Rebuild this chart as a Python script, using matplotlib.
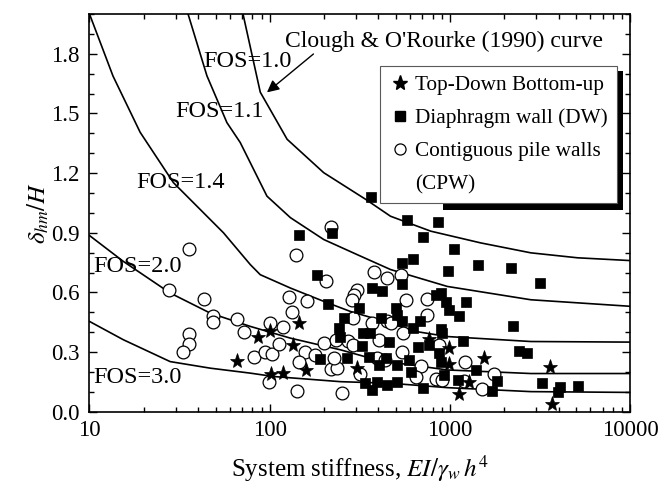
import matplotlib
matplotlib.use("Agg")
import matplotlib.pyplot as plt
from matplotlib.lines import Line2D
from matplotlib.patches import Rectangle
from matplotlib.transforms import IdentityTransform
from matplotlib.ticker import MultipleLocator, FixedLocator, FixedFormatter, LogLocator, NullFormatter

plt.rcParams['font.family'] = ['Liberation Serif', 'DejaVu Serif']
plt.rcParams['mathtext.fontset'] = 'stix'

# ---------------- data ----------------
fos10_x = [71, 88.5, 124.7, 199, 340, 467, 780, 1476, 2800, 5090, 10000]
fos10_y = [2.0, 1.607, 1.370, 1.202, 1.068, 0.983, 0.908, 0.849, 0.799, 0.774, 0.760]

fos11_x = [35.2, 44.8, 57.8, 68.5, 96.4, 130, 199, 305, 467, 964, 2800, 10000]
fos11_y = [2.0, 1.689, 1.454, 1.354, 1.084, 0.976, 0.866, 0.790, 0.715, 0.630, 0.563, 0.530]

fos14_x = [10, 13.5, 19.1, 29.2, 55.3, 77.9, 88.5, 130, 199, 280, 467, 660, 964, 2800, 10000]
fos14_y = [2.0, 1.688, 1.405, 1.152, 0.900, 0.740, 0.689, 0.622, 0.555, 0.504, 0.445, 0.402, 0.378, 0.353, 0.350]

fos20_x = [10, 15.4, 28.0, 46.7, 77.9, 130, 247, 400, 964, 2800, 10000]
fos20_y = [0.886, 0.756, 0.597, 0.496, 0.429, 0.370, 0.311, 0.258, 0.210, 0.192, 0.192]

fos30_x = [10, 15.4, 28.0, 46.7, 77.9, 105, 247, 467, 964, 2800, 10000]
fos30_y = [0.454, 0.362, 0.252, 0.219, 0.194, 0.177, 0.151, 0.143, 0.121, 0.101, 0.097]

cpw_x = [27.7, 35.8, 43.4, 48.1, 48.1, 65.8, 71.5, 35.8, 35.8, 32.8, 81.3, 93.5, 99.8,
         119, 98.5, 102.8, 113, 127, 161, 133, 142, 140, 157, 179, 146, 199, 206, 217,
         217, 236, 226, 234, 270, 290, 290, 252, 305, 292, 286, 378, 448, 531, 370, 448,
         402, 394, 433, 318, 467, 566, 740, 747, 550, 867, 542, 686, 1205, 643, 830, 905,
         1194, 1750, 1510]
cpw_y = [0.614, 0.820, 0.567, 0.483, 0.451, 0.466, 0.403, 0.392, 0.340, 0.298, 0.273, 0.299, 0.446,
         0.426, 0.151, 0.289, 0.340, 0.575, 0.555, 0.499, 0.104, 0.790, 0.300, 0.286, 0.249, 0.345, 0.659, 0.930,
         0.215, 0.219, 0.272, 0.362, 0.357, 0.336, 0.471, 0.093, 0.614, 0.589, 0.563, 0.705, 0.674, 0.689, 0.446, 0.454,
         0.362, 0.269, 0.261, 0.189, 0.448, 0.563, 0.568, 0.484, 0.395, 0.336, 0.300, 0.232, 0.252, 0.176, 0.163, 0.160,
         0.155, 0.189, 0.114]

dw_x = [365, 145, 222, 578, 855, 710, 1050, 1427, 2182, 625, 542, 973, 3141, 182, 209, 370, 420,
        542, 311, 259, 411, 241, 244, 328, 361, 457, 325, 189, 268, 354, 402, 339, 391, 448, 370,
        830, 885, 944, 1219, 985, 498, 509, 1114, 542, 679, 625, 885, 897, 2218, 1183, 662, 762,
        867, 438, 590, 509, 885, 1387, 604, 924, 1104, 1829, 2410, 2661, 504, 710, 1715, 3251,
        4074, 3945, 5093]
dw_y = [1.079, 0.888, 0.900, 0.963, 0.952, 0.879, 0.818, 0.740, 0.725, 0.769, 0.748, 0.706, 0.646, 0.687, 0.542, 0.622, 0.609,
        0.642, 0.524, 0.471, 0.471, 0.421, 0.378, 0.395, 0.395, 0.353, 0.328, 0.266, 0.269, 0.277, 0.236, 0.143, 0.148, 0.135, 0.109,
        0.585, 0.597, 0.552, 0.552, 0.513, 0.521, 0.488, 0.482, 0.454, 0.454, 0.421, 0.417, 0.395, 0.429, 0.357, 0.323, 0.333,
        0.295, 0.269, 0.261, 0.236, 0.249, 0.210, 0.202, 0.185, 0.160, 0.155, 0.303, 0.295, 0.148, 0.118, 0.104, 0.143,
        0.123, 0.101, 0.131]

td_x = [65.8, 85.5, 100.7, 146, 134.6, 101.6, 119, 159, 305, 762, 985, 985, 1541, 1271, 1119, 3581, 3648]
td_y = [0.257, 0.375, 0.408, 0.446, 0.336, 0.189, 0.194, 0.210, 0.219, 0.367, 0.320, 0.239, 0.269, 0.151, 0.088, 0.227, 0.039]

fos_labels = ["FOS=1.0", "FOS=1.1", "FOS=1.4", "FOS=2.0", "FOS=3.0"]
fos_label_x = [42.7, 29.9, 18.1, 10.45, 10.45]
fos_label_y = [1.763, 1.511, 1.153, 0.730, 0.170]

x_ticks = [10, 100, 1000, 10000]
x_tick_labels = ["10", "100", "1000", "10000"]
y_ticks = [0.0, 0.3, 0.6, 0.9, 1.2, 1.5, 1.8]
y_tick_labels = ["0.0", "0.3", "0.6", "0.9", "1.2", "1.5", "1.8"]

legend_labels = ["Top-Down Bottom-up", "Diaphragm wall (DW)", "Contiguous pile walls", "(CPW)"]
annot_text = "Clough & O'Rourke (1990) curve"

# ---------------- figure ----------------
fig = plt.figure(figsize=(6.6, 4.92), dpi=100)
ax = fig.add_axes([0.1356, 0.1632, 0.8197, 0.8083])

for cx, cy in [(fos10_x, fos10_y), (fos11_x, fos11_y), (fos14_x, fos14_y),
               (fos20_x, fos20_y), (fos30_x, fos30_y)]:
    ax.plot(cx, cy, color='black', lw=1.2, zorder=2)

ax.plot(cpw_x, cpw_y, linestyle='none', marker='o', markersize=9.2,
        markerfacecolor='white', markeredgecolor='black', markeredgewidth=0.9, zorder=3)
ax.plot(dw_x, dw_y, linestyle='none', marker='s', markersize=7.8,
        markerfacecolor='black', markeredgecolor='black', markeredgewidth=0.5, zorder=3)
ax.plot(td_x, td_y, linestyle='none', marker='*', markersize=11,
        markerfacecolor='black', markeredgecolor='black', markeredgewidth=0.5, zorder=4)

for t, tx, ty in zip(fos_labels, fos_label_x, fos_label_y):
    ax.text(tx, ty, t, fontsize=17.5, ha='left', va='center', zorder=5)

ax.text(122, 1.864, annot_text, fontsize=17, ha='left', va='center', zorder=5)
ax.annotate('', xy=(96.4, 1.606), xytext=(174.5, 1.799),
            arrowprops=dict(arrowstyle='-|>', color='black', lw=1.0, mutation_scale=18,
                            shrinkA=0, shrinkB=0), zorder=5)

ax.set_xscale('log')
ax.set_xlim(10, 10000)
ax.set_ylim(0, 2.0)
ax.xaxis.set_major_locator(FixedLocator(x_ticks))
ax.xaxis.set_major_formatter(FixedFormatter(x_tick_labels))
ax.xaxis.set_minor_locator(LogLocator(base=10, subs=range(2, 10)))
ax.xaxis.set_minor_formatter(NullFormatter())
ax.yaxis.set_major_locator(FixedLocator(y_ticks))
ax.yaxis.set_major_formatter(FixedFormatter(y_tick_labels))
ax.yaxis.set_minor_locator(MultipleLocator(0.1))

ax.tick_params(which='both', direction='in', top=True, right=True, labelsize=16.5,
               width=1.0, colors='black')
ax.tick_params(which='major', length=6)
ax.tick_params(which='minor', length=3.5)
ax.tick_params(axis='x', which='major', pad=6)
ax.tick_params(axis='y', which='major', pad=7)
for sp in ax.spines.values():
    sp.set_linewidth(1.2)

ax.set_xlabel(r"System stiffness, $EI/\gamma_w\,h^4$", fontsize=18, labelpad=9)
ax.set_ylabel(r"$\delta_{hm}/H$", fontsize=18, labelpad=0)

handles = [
    Line2D([], [], linestyle='none', marker='*', markersize=11, color='black'),
    Line2D([], [], linestyle='none', marker='s', markersize=7.8, color='black'),
    Line2D([], [], linestyle='none', marker='o', markersize=8, markerfacecolor='white',
           markeredgecolor='black', markeredgewidth=0.9),
    Line2D([], [], linestyle='none', marker=None),
]
leg = ax.legend(handles, legend_labels, loc='upper left', bbox_to_anchor=(0.537, 0.870),
                borderaxespad=0, fontsize=15.3, frameon=True, fancybox=False,
                edgecolor='0.35', framealpha=1, borderpad=0.44, labelspacing=0.62,
                handlelength=0.99, handletextpad=0.2, numpoints=1)
leg.get_frame().set_linewidth(0.8)
leg.set_zorder(6)

fig.canvas.draw()
bb = leg.get_window_extent()
shadow = Rectangle((bb.x0 + 63, bb.y0 - 6.7), (bb.x1 + 6) - (bb.x0 + 63), (bb.y1 - 5) - (bb.y0 - 6.7),
                   transform=IdentityTransform(), facecolor='black', edgecolor='none',
                   zorder=5.9, clip_on=False)
ax.add_patch(shadow)

fig.savefig("out.png", dpi=100)
